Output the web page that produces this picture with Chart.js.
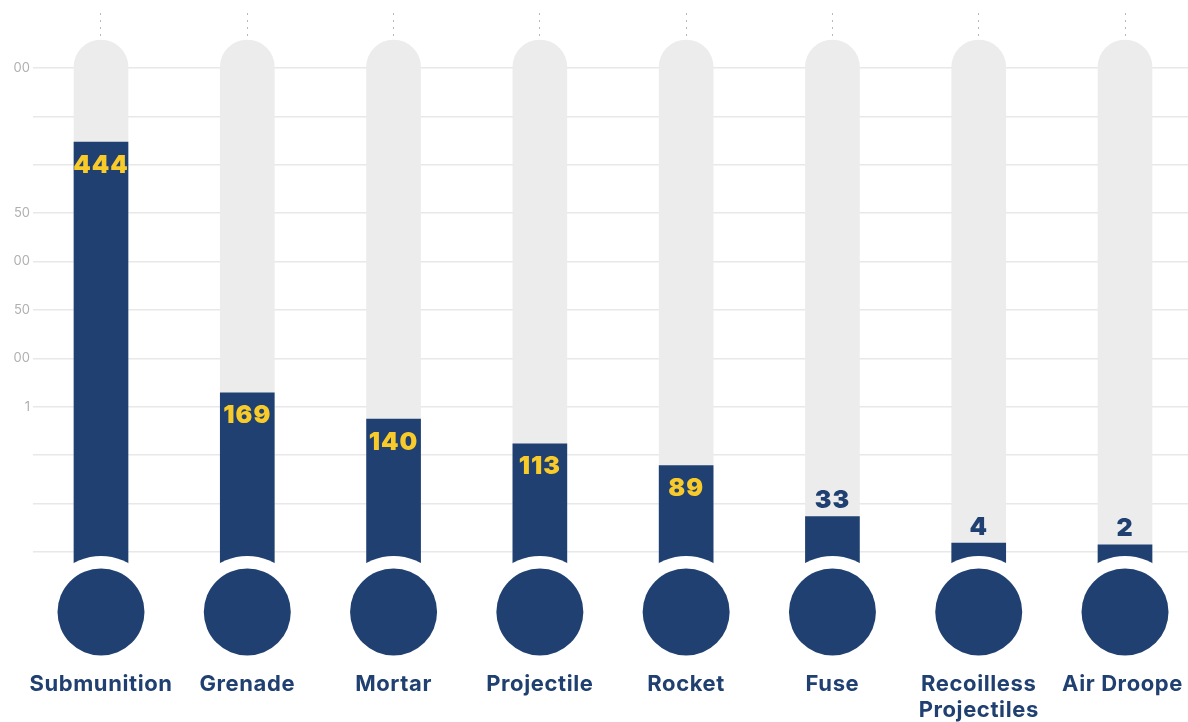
<!DOCTYPE html>
<html>
<head>
<meta charset="utf-8">
<script src="https://cdn.jsdelivr.net/npm/chart.js@4.4.1/dist/chart.umd.min.js"></script>
<style>
html, body { margin: 0; padding: 0; background: #fff; overflow: hidden; }
#wrap { width: 1188px; height: 722px; }
</style>
</head>
<body>
<div id="wrap"><canvas id="ordnance"></canvas></div>
<script>
var categories = ["Submunition", "Grenade", "Mortar", "Projectile", "Rocket", "Fuse", ["Recoilless", "Projectiles"], "Air Droope"];
var counts = [444, 169, 140, 113, 89, 33, 4, 2];
var tubeHeight = 556;   // grey tube drawn behind every bar
var tickValues = [-5.8, 47.3, 100.5, 153.6, 206.7, 259.8, 313, 366.1, 419.2, 472.4, 525.5];
var tickLabels = ["", "", "", "1", "00", "50", "00", "50", "", "", "00"];

var Y_MIN = -25.6, Y_MAX = 585.8;
var NAVY = "#1f4070", GOLD = "#f9cb2a", TUBE = "#ececec";

// bulbs under each tube, value labels and category names
var thermometer = {
	id: "thermometer",
	afterDatasetsDraw: function(chart) {
		var ctx = chart.ctx, xs = chart.scales.x;
		var bulbY = chart.chartArea.bottom + 42;
		ctx.save();
		categories.forEach(function(c, i) {
			var cx = xs.getPixelForValue(i);
			ctx.fillStyle = "#fff";
			ctx.beginPath(); ctx.arc(cx, bulbY, 56, 0, Math.PI * 2); ctx.fill();
			ctx.fillStyle = NAVY;
			ctx.beginPath(); ctx.arc(cx, bulbY, 43.5, 0, Math.PI * 2); ctx.fill();
		});

		ctx.textAlign = "center";
		ctx.textBaseline = "middle";
		ctx.font = "900 25px Inter";
		ctx.letterSpacing = "1px";
		chart.getDatasetMeta(0).data.forEach(function(bar, i) {
			var inside = (bulbY - 56 - bar.y) > 50;
			ctx.fillStyle = inside ? GOLD : NAVY;
			ctx.fillText(counts[i], bar.x, inside ? bar.y + 23 : bar.y - 16);
		});

		ctx.font = "700 22px Inter";
		ctx.letterSpacing = "0.6px";
		ctx.fillStyle = NAVY;
		categories.forEach(function(c, i) {
			var lines = Array.isArray(c) ? c : [c];
			var cx = xs.getPixelForValue(i);
			lines.forEach(function(line, j) {
				var w = ctx.measureText(line).width;
				var lx = Math.min(cx, chart.width - 5 - w / 2);
				ctx.fillText(line, lx, bulbY + 72 + j * 26);
			});
		});
		ctx.restore();
	}
};

var ctx = document.getElementById("ordnance").getContext("2d");
var chart = new Chart(ctx, {
	type: "bar",
	data: {
		datasets: [{
			data: counts.map(function(v, i) { return {x: i, y: v}; }),
			backgroundColor: NAVY,
			base: Y_MIN,
			grouped: false,
			barThickness: 54
		}, {
			data: counts.map(function(v, i) { return {x: i, y: tubeHeight}; }),
			backgroundColor: TUBE,
			base: Y_MIN,
			grouped: false,
			barThickness: 54,
			borderRadius: {topLeft: 27, topRight: 27}
		}]
	},
	options: {
		responsive: true,
		maintainAspectRatio: false,
		animation: false,
		layout: { autoPadding: false, padding: {top: 13, bottom: 152, left: 0, right: 0} },
		plugins: { legend: {display: false}, tooltip: {enabled: false} },
		scales: {
			x: {
				type: "linear",
				offset: false,
				min: -0.4648,
				max: 7.4306,
				afterBuildTicks: function(s) { s.ticks = categories.map(function(c, i) { return {value: i}; }); },
				ticks: { display: false },
				grid: { offset: false, color: "#b8b8b8", lineWidth: 1, drawTicks: false },
				border: { display: false, dash: [2, 5] }
			},
			y: {
				min: Y_MIN,
				max: Y_MAX,
				afterBuildTicks: function(s) { s.ticks = tickValues.map(function(v) { return {value: v}; }); },
				afterFit: function(s) { s.width = 33; },
				ticks: {
					padding: 3,
					color: "#b0b0b0",
					font: { family: "Inter", size: 13 },
					callback: function(v, i) { return tickLabels[i]; }
				},
				grid: { color: "#e8e8e8", lineWidth: 1.5, drawTicks: false },
				border: { display: false }
			}
		}
	},
	plugins: [thermometer]
});
</script>
</body>
</html>
